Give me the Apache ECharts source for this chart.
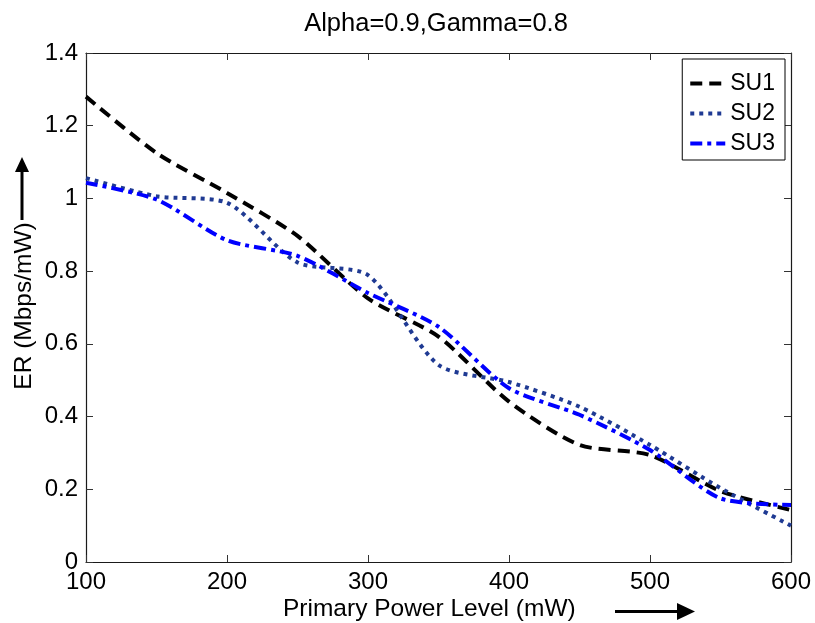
<!DOCTYPE html>
<html><head><meta charset="utf-8">
<script src="https://cdn.jsdelivr.net/npm/echarts@6/dist/echarts.min.js"></script>
<style>html,body{margin:0;padding:0;background:#fff}#c{width:815px;height:623px}</style>
</head><body><div id="c"></div>
<script>
const xValues = [100,150,200,250,300,350,400,450,500,550,600];
const su1 = [1.28,1.125,1.015,0.897,0.725,0.62,0.441,0.322,0.294,0.195,0.143];
const su2 = [1.056,1.006,0.988,0.824,0.789,0.542,0.495,0.427,0.322,0.203,0.10];
const su3 = [1.043,0.997,0.885,0.842,0.74,0.647,0.478,0.405,0.308,0.175,0.157];
const seriesNames = ['SU1','SU2','SU3'];
const titleText = 'Alpha=0.9,Gamma=0.8';
const xLabel = 'Primary Power Level (mW)';
const yLabel = 'ER (Mbps/mW)';

const font = 'Liberation Sans, Arial, sans-serif';
const axColor = '#1a1a1a';
const pair = a => xValues.map((x,i)=>[x,a[i]]);
const chart = echarts.init(document.getElementById('c'));
const G = {left:86, right:24, top:53, bottom:61};
function axisBase(extra){
  return Object.assign({
    axisLine:{show:true,onZero:false,lineStyle:{color:axColor,width:1.2}},
    axisTick:{show:true,inside:true,length:7,lineStyle:{color:'#333'}},
    splitLine:{show:false}
  },extra);
}
chart.setOption({
  animation:false,
  grid:G,
  legend:{
    data:seriesNames, orient:'vertical', right:30, top:59,
    backgroundColor:'#fff', borderColor:'#000', borderWidth:1, padding:[13,10,5,6],
    itemWidth:35, itemHeight:14, itemGap:7,
    itemStyle:{color:'rgba(0,0,0,0)',borderWidth:0,opacity:0},
    lineStyle:{width:4},
    textStyle:{fontFamily:font,fontSize:23,color:'#000'}
  },
  xAxis:[
    axisBase({type:'value',min:100,max:600,interval:100,position:'bottom',
      axisLabel:{fontFamily:font,fontSize:24,color:'#000',margin:8}}),
    axisBase({type:'value',min:100,max:600,interval:100,position:'top',axisLabel:{show:false}})
  ],
  yAxis:[
    axisBase({type:'value',min:0,max:1.4,interval:0.2,position:'left',
      axisLabel:{fontFamily:font,fontSize:24,color:'#000',margin:8,formatter:v=>String(+v.toFixed(1))}}),
    axisBase({type:'value',min:0,max:1.4,interval:0.2,position:'right',axisLabel:{show:false}})
  ],
  series:[
    {name:'SU1',type:'line',data:pair(su1),showSymbol:false,symbol:'none',smooth:0.25,
      lineStyle:{color:'#000',width:4,type:[12,7]},itemStyle:{color:'#000'}},
    {name:'SU2',type:'line',data:pair(su2),showSymbol:false,symbol:'none',smooth:0.25,
      lineStyle:{color:'#1f3a93',width:4,type:[4,5]},itemStyle:{color:'#1f3a93'}},
    {name:'SU3',type:'line',data:pair(su3),showSymbol:false,symbol:'none',smooth:0.25,
      lineStyle:{color:'#0000ff',width:4,type:[12,5,4,5]},itemStyle:{color:'#0000ff'}}
  ],
  graphic:[
    {type:'text',x:436,y:24,style:{text:titleText,fontFamily:font,fontSize:25.5,fill:'#000',align:'center',verticalAlign:'middle'}},
    {type:'text',x:283,y:609,style:{text:xLabel,fontFamily:font,fontSize:24.5,fill:'#000',align:'left',verticalAlign:'middle'}},
    {type:'line',shape:{x1:615,y1:611.5,x2:680,y2:611.5},style:{stroke:'#000',lineWidth:3}},
    {type:'polygon',shape:{points:[[677,603],[695,611.5],[677,620]]},style:{fill:'#000'}},
    {type:'text',x:24,y:306,rotation:Math.PI/2,style:{text:yLabel,fontFamily:font,fontSize:24.5,fill:'#000',align:'center',verticalAlign:'middle'}},
    {type:'line',shape:{x1:22,y1:220,x2:22,y2:170},style:{stroke:'#000',lineWidth:3}},
    {type:'polygon',shape:{points:[[15,172],[22,157],[29,172]]},style:{fill:'#000'}}
  ]
});
</script></body></html>
